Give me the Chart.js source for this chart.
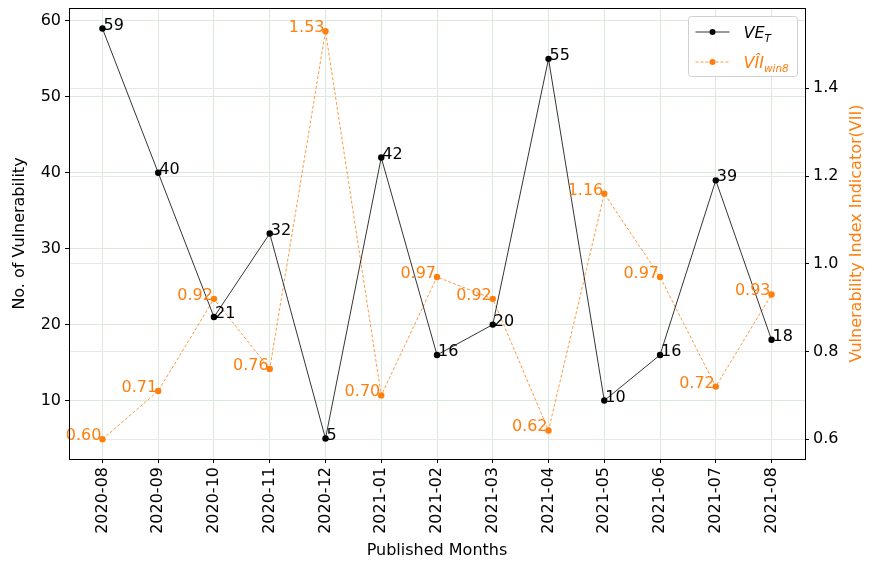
<!DOCTYPE html>
<html>
<head>
  <title>Vulnerabilities per Month</title>
  <script src="https://cdn.jsdelivr.net/npm/chart.js"></script>
  <style>
    body {
      margin: 0;
      background: #fff;
    }
  </style>
</head>
<body>
  <canvas id="vulnChart" width="873" height="562"></canvas>

  <script>
    const months = ['2020-08', '2020-09', '2020-10', '2020-11', '2020-12', '2021-01', '2021-02',
                    '2021-03', '2021-04', '2021-05', '2021-06', '2021-07', '2021-08'];
    const vulnCounts = [59, 40, 21, 32, 5, 42, 16, 20, 55, 10, 16, 39, 18];
    const viiWin8 = [0.60, 0.71, 0.92, 0.76, 1.53, 0.70, 0.97, 0.92, 0.62, 1.16, 0.97, 0.72, 0.93];
    const leftTicks = [10, 20, 30, 40, 50, 60];
    const rightTicks = [0.6, 0.8, 1.0, 1.2, 1.4];

    const ORANGE = '#ff7f0e';
    const FONT = 'DejaVu Sans';

    // value labels, frame, right axis title and legend drawn on top of the chart
    const annotate = {
      id: 'annotate',
      afterDatasetsDraw(chart) {
        const { ctx, chartArea: a, scales } = chart;
        const x = scales.x, yl = scales.yLeft, yr = scales.yRight;
        ctx.save();
        ctx.font = '16px ' + FONT;
        ctx.textBaseline = 'alphabetic';

        ctx.fillStyle = ORANGE;
        ctx.textAlign = 'right';
        viiWin8.forEach((v, i) => {
          ctx.fillText(v.toFixed(2), x.getPixelForValue(i) - 1, yr.getPixelForValue(v) + 1);
        });

        ctx.fillStyle = '#000';
        ctx.textAlign = 'left';
        vulnCounts.forEach((v, i) => {
          ctx.fillText(String(v), x.getPixelForValue(i) + 1, yl.getPixelForValue(v) + 1);
        });

        // right axis title, reading bottom to top
        ctx.save();
        ctx.translate(857, (a.top + a.bottom) / 2);
        ctx.rotate(-Math.PI / 2);
        ctx.textAlign = 'center';
        ctx.textBaseline = 'middle';
        ctx.fillStyle = ORANGE;
        ctx.fillText('Vulnerability Index Indicator(VII)', 0, 0);
        ctx.restore();

        // axes frame
        ctx.strokeStyle = '#000';
        ctx.lineWidth = 1;
        ctx.strokeRect(Math.round(a.left) + 0.5, Math.round(a.top) + 0.5,
                       Math.round(a.right - a.left), Math.round(a.bottom - a.top));

        // legend box
        const lx = 688.5, ly = 16.5, lw = 109, lh = 60;
        ctx.fillStyle = 'rgba(255,255,255,0.85)';
        ctx.strokeStyle = '#d0d0d0';
        ctx.beginPath();
        ctx.roundRect(lx, ly, lw, lh, 3);
        ctx.fill();
        ctx.stroke();

        // VE_T entry
        const r1 = ly + 15.5, r2 = ly + 45.5;
        ctx.textAlign = 'left';
        ctx.strokeStyle = '#000';
        ctx.lineWidth = 0.8;
        ctx.beginPath();
        ctx.moveTo(lx + 7, r1);
        ctx.lineTo(lx + 41, r1);
        ctx.stroke();
        ctx.fillStyle = '#000';
        ctx.beginPath();
        ctx.arc(lx + 24, r1, 3, 0, Math.PI * 2);
        ctx.fill();
        ctx.font = 'italic 16px ' + FONT;
        ctx.fillText('VE', lx + 55, r1 + 6);
        let w = ctx.measureText('VE').width;
        ctx.font = 'italic 10.5px ' + FONT;
        ctx.fillText('T', lx + 55 + w, r1 + 10);

        // VII_win8 entry
        ctx.strokeStyle = ORANGE;
        ctx.setLineDash([3, 2]);
        ctx.beginPath();
        ctx.moveTo(lx + 7, r2);
        ctx.lineTo(lx + 41, r2);
        ctx.stroke();
        ctx.setLineDash([]);
        ctx.fillStyle = ORANGE;
        ctx.beginPath();
        ctx.arc(lx + 24, r2, 3, 0, Math.PI * 2);
        ctx.fill();
        ctx.font = 'italic 16px ' + FONT;
        ctx.fillText('V\u00CEI', lx + 55, r2 + 6);
        w = ctx.measureText('V\u00CEI').width;
        ctx.font = 'italic 10.5px ' + FONT;
        ctx.fillText('win8', lx + 55 + w, r2 + 10);
        ctx.restore();
      }
    };

    const gridColor = '#dde8dd';

    // fixed axis sizes so the plot area lands where it should
    const fixY = w => s => { s.width = w; s.paddingTop = 0; s.paddingBottom = 0; };

    new Chart(document.getElementById('vulnChart'), {
      type: 'line',
      data: {
        labels: months,
        datasets: [{
          label: 'VE_T',
          data: vulnCounts.map((v, i) => ({ x: i, y: v })),
          yAxisID: 'yLeft',
          borderColor: '#000',
          backgroundColor: '#000',
          borderWidth: 0.8,
          pointRadius: 3.2,
          pointBorderWidth: 0,
          tension: 0
        }, {
          label: 'VII_win8',
          data: viiWin8.map((v, i) => ({ x: i, y: v })),
          yAxisID: 'yRight',
          borderColor: ORANGE,
          backgroundColor: ORANGE,
          borderWidth: 0.8,
          borderDash: [3, 2],
          pointRadius: 3.2,
          pointBorderWidth: 0,
          tension: 0
        }]
      },
      options: {
        responsive: false,
        animation: false,
        layout: { padding: { top: 8, right: 0, left: 0, bottom: 0 } },
        plugins: {
          legend: { display: false },
          tooltip: { enabled: false }
        },
        scales: {
          x: {
            type: 'linear',
            min: -0.6,
            max: 12.6,
            afterBuildTicks: s => { s.ticks = months.map((m, i) => ({ value: i })); },
            afterFit: s => { s.height = 103; s.paddingLeft = 0; s.paddingRight = 0; },
            ticks: {
              callback: v => months[v],
              minRotation: 90,
              maxRotation: 90,
              autoSkip: false,
              padding: 4,
              color: '#000',
              font: { family: FONT, size: 16 }
            },
            grid: { color: gridColor, tickColor: '#000', tickLength: 4, lineWidth: 1 },
            border: { color: '#000' },
            title: {
              display: true,
              text: 'Published Months',
              color: '#000',
              font: { family: FONT, size: 16 },
              padding: { top: 0, bottom: 1.4 }
            }
          },
          yLeft: {
            position: 'left',
            min: 2.3,
            max: 61.7,
            afterBuildTicks: s => { s.ticks = leftTicks.map(v => ({ value: v })); },
            afterFit: fixY(69),
            ticks: {
              color: '#000',
              padding: 4,
              font: { family: FONT, size: 16 }
            },
            grid: { color: gridColor, tickColor: '#000', tickLength: 4 },
            border: { color: '#000' },
            title: {
              display: true,
              text: 'No. of Vulnerability',
              color: '#000',
              font: { family: FONT, size: 16 },
              padding: { top: 10.4, bottom: 0 }
            }
          },
          yRight: {
            position: 'right',
            min: 0.555,
            max: 1.583,
            afterBuildTicks: s => { s.ticks = rightTicks.map(v => ({ value: v })); },
            afterFit: fixY(68),
            ticks: {
              color: '#000',
              padding: 4,
              callback: v => v.toFixed(1),
              font: { family: FONT, size: 16 }
            },
            grid: { color: '#e8e8e8', tickColor: '#000', tickLength: 4 },
            border: { color: '#000' }
          }
        }
      },
      plugins: [annotate]
    });
  </script>
</body>
</html>
